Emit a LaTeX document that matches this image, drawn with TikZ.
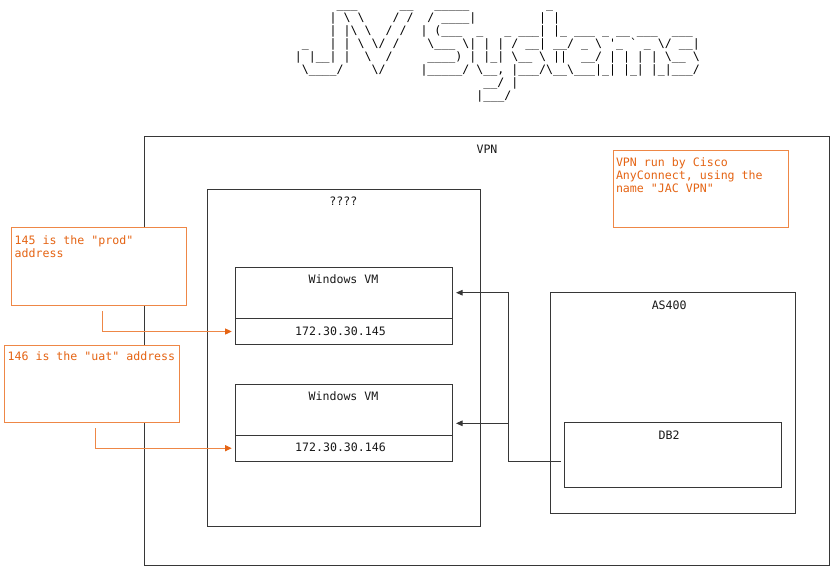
\documentclass[tikz,border=0pt]{standalone}
\usepackage{fontspec}
\setmonofont{DejaVu Sans Mono}
\usetikzlibrary{arrows.meta}
\definecolor{ln}{RGB}{55,55,55}
\definecolor{orT}{RGB}{229,100,20}
\definecolor{orL}{RGB}{238,135,70}
\newcommand\Bsl{\textbackslash}
\newcommand\Qa{\char39\relax}
\newcommand\Ga{\char96\relax}
\tikzset{
 mono/.style={font=\ttfamily\fontsize{11.6}{13}\selectfont, inner sep=0pt, outer sep=0pt},
 lbl/.style={mono, text=black!90, anchor=base},
 otx/.style={mono, text=orT, anchor=base west},
 ttl/.style={mono, text=black, anchor=base west},
 box/.style={draw=ln, line width=0.9pt, inner sep=0pt, outer sep=0pt, anchor=north west},
 note/.style={draw=orL, fill=white, line width=0.9pt, inner sep=0pt, outer sep=0pt, anchor=north west, minimum width=175pt, minimum height=77.8pt},
 blk/.style={draw=ln, line width=0.9pt, -{Triangle[length=6.5pt,width=5.5pt]}},
 org/.style={draw=orL, line width=0.9pt, -{Triangle[length=6.5pt,width=6pt,color=orT]}},
}
\begin{document}
\begin{tikzpicture}[x=1pt,y=-1pt]
\useasboundingbox (0,0) rectangle (834,573);
% ---- title (ASCII art) ----
\node[ttl] (r1) at (294.8,8.5) {~~~~~~\_\_\_~~~~~~\_\_~~~\_\_\_\_\_~~~~~~~~~~~\_};
\node[ttl] (r2) at (294.8,21.5) {~~~~~|~\Bsl~\Bsl~~~~/~/~~/~\_\_\_\_|~~~~~~~~~|~|};
\node[ttl] (r3) at (294.8,34.5) {~~~~~|~|\Bsl~\Bsl~~/~/~~|~(\_\_\_~~\_~~~\_~\_\_\_|~|\_~\_\_\_~\_~\_\_~\_\_\_~~\_\_\_};
\node[ttl] (r4) at (294.8,47.5) {~\_~~~|~|~\Bsl~\Bsl/~/~~~~\Bsl\_\_\_~\Bsl|~|~|~/~\_\_|~\_\_/~\_~\Bsl~\Qa\_~\Ga~\_~\Bsl/~\_\_|};
\node[ttl] (r5) at (294.8,60.5) {|~|\_\_|~|~~\Bsl~~/~~~~~\_\_\_\_)~|~|\_|~\Bsl\_\_~\Bsl~||~~\_\_/~|~|~|~|~\Bsl\_\_~\Bsl};
\node[ttl] (r6) at (294.8,73.5) {~\Bsl\_\_\_\_/~~~~\Bsl/~~~~~|\_\_\_\_\_/~\Bsl\_\_,~|\_\_\_/\Bsl\_\_\Bsl\_\_\_|\_|~|\_|~|\_|\_\_\_/};
\node[ttl] (r7) at (294.8,86.5) {~~~~~~~~~~~~~~~~~~~~~~~~~~~\_\_/~|};
\node[ttl] (r8) at (294.8,99.5) {~~~~~~~~~~~~~~~~~~~~~~~~~~|\_\_\_/};
% ---- boxes ----
\node[box, minimum width=685.5pt, minimum height=428.8pt] (vpn) at (144,136.7) {};
\node[lbl] (vpnL) at (487,153.5) {VPN};
\node[box, minimum width=272.7pt, minimum height=337.7pt] (qq) at (207.3,189) {};
\node[lbl] (qqL) at (343.3,205.9) {????};
\node[box, minimum width=216.7pt, minimum height=51.4pt] (vm1) at (235.3,267.3) {};
\node[box, minimum width=216.7pt, minimum height=25.6pt] (vm1ip) at (235.3,318.7) {};
\node[lbl] (vm1L) at (343.5,283.5) {Windows VM};
\node[lbl] (vm1ipL) at (340.5,335.2) {172.30.30.145};
\node[box, minimum width=216.7pt, minimum height=51.4pt] (vm2) at (235.3,384) {};
\node[box, minimum width=216.7pt, minimum height=25.6pt] (vm2ip) at (235.3,435.4) {};
\node[lbl] (vm2L) at (343.5,400.2) {Windows VM};
\node[lbl] (vm2ipL) at (340.5,451.9) {172.30.30.146};
\node[box, minimum width=245pt, minimum height=220.6pt] (as) at (550,292.7) {};
\node[lbl] (asL) at (669.2,309.2) {AS400};
\node[box, minimum width=217.3pt, minimum height=64.6pt] (db) at (564,422.7) {};
\node[lbl] (dbL) at (669,439.2) {DB2};
% ---- black connectors ----
\coordinate (dbs) at (560.7,461.7);
\coordinate (jA) at (508,292.7);
\coordinate (jB) at (508,423.3);
\coordinate (ta) at (456,292.7);
\coordinate (tb) at (456,423.3);
\draw[blk] (dbs) -| (jA) -- (ta);
\draw[blk] (jB) -- (tb);
% ---- notes ----
\node[note] (n1) at (11,227.7) {};
\node[otx] (n1a) at (14.6,244.2) {145 is the "prod"};
\node[otx] (n1b) at (14.6,257.2) {address};
\node[note] (n2) at (4,345) {};
\node[otx] (n2a) at (7.6,360.9) {146 is the "uat" address};
\node[note] (n3) at (613.3,150) {};
\node[otx] (n3a) at (616,166.9) {VPN run by Cisco};
\node[otx] (n3b) at (616,179.9) {AnyConnect, using the};
\node[otx] (n3c) at (616,192.9) {name "JAC VPN"};
% ---- orange connectors ----
\coordinate (o1) at (102,311);
\coordinate (o2) at (95.3,428.3);
\draw[org] (o1) |- ([xshift=-3.6pt]vm1ip.west);
\draw[org] (o2) |- ([xshift=-3.6pt]vm2ip.west);
\end{tikzpicture}
\end{document}
